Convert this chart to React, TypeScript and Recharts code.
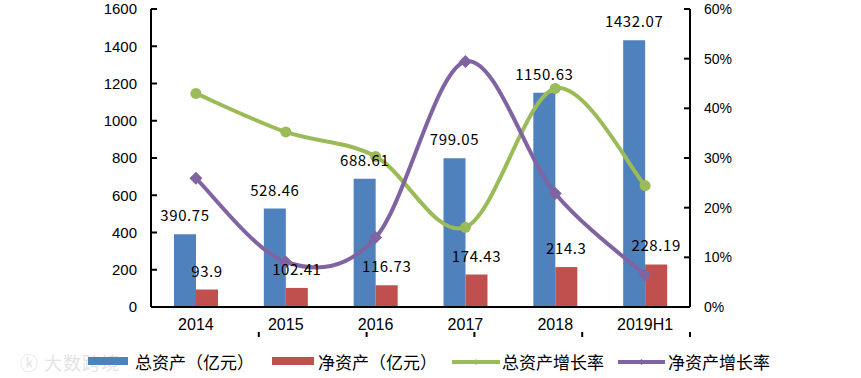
import React from 'react';
import { ComposedChart, Bar, Line, XAxis, YAxis, LabelList } from 'recharts';

const categories = ['2014', '2015', '2016', '2017', '2018', '2019H1'];
const totalAssets = [390.75, 528.46, 688.61, 799.05, 1150.63, 1432.07];
const netAssets = [93.9, 102.41, 116.73, 174.43, 214.3, 228.19];
const totalGrowth = [43.0, 35.24, 30.31, 16.04, 44.0, 24.46];
const netGrowth = [25.9, 9.06, 13.98, 49.43, 22.86, 6.48];
const leftTicks = [0, 200, 400, 600, 800, 1000, 1200, 1400, 1600];
const rightTicks = [0, 10, 20, 30, 40, 50, 60];
const boundaryTicks = [1, 2, 3, 4, 5];

const seriesNames = ['总资产（亿元）', '净资产（亿元）', '总资产增长率', '净资产增长率'];
const colors = ['#4F81BD', '#C0504D', '#9BBB59', '#8064A2'];

const data = categories.map((c, i) => ({
  cat: c,
  total: totalAssets[i],
  net: netAssets[i],
  tg: totalGrowth[i],
  ng: netGrowth[i],
}));

// Excel-like smooth line (Catmull-Rom)
function smoothCurve(context: any) {
  let pts: number[][] = [];
  return {
    areaStart() {},
    areaEnd() {},
    lineStart() {
      pts = [];
    },
    point(x: number, y: number) {
      pts.push([+x, +y]);
    },
    lineEnd() {
      const n = pts.length;
      if (!n) return;
      context.moveTo(pts[0][0], pts[0][1]);
      for (let i = 0; i < n - 1; i++) {
        const p0 = pts[i - 1] || pts[i];
        const p1 = pts[i];
        const p2 = pts[i + 1];
        const p3 = pts[i + 2] || pts[i + 1];
        const c1x = p1[0] + (p2[0] - p0[0]) / 6;
        const c1y = p1[1] + (p2[1] - p0[1]) / 6;
        const c2x = p2[0] - (p3[0] - p1[0]) / 6;
        const c2y = p2[1] - (p3[1] - p1[1]) / 6;
        context.bezierCurveTo(c1x, c1y, c2x, c2y, p2[0], p2[1]);
      }
    },
  };
}

const Diamond = (props: any) => {
  const { cx, cy } = props;
  if (cx == null || cy == null) return null;
  const r = 6.5;
  return (
    <polygon
      points={`${cx},${cy - r} ${cx + r},${cy} ${cx},${cy + r} ${cx - r},${cy}`}
      fill={colors[3]}
    />
  );
};

const Circle = (props: any) => {
  const { cx, cy } = props;
  if (cx == null || cy == null) return null;
  return <circle cx={cx} cy={cy} r={5.5} fill={colors[2]} />;
};

const labelFont = { fontSize: 15, fontFamily: '"Noto Sans CJK SC", sans-serif', fill: '#000', letterSpacing: 0.6 };
const axisFont = 'Liberation Sans, Arial, sans-serif';
const legendFont = '"Noto Sans CJK SC", sans-serif';

export default function App() {
  return (
    <div style={{ position: 'absolute', left: 0, top: 0, width: 861, height: 378, background: '#fff' }}>
      <ComposedChart
        width={861}
        height={378}
        data={data}
        margin={{ top: 9, right: 111, left: 0, bottom: 40 }}
        barGap={0}
      >
        <XAxis
          xAxisId="grid"
          type="number"
          domain={[0, 6]}
          ticks={boundaryTicks}
          height={1}
          axisLine={false}
          tick={() => <g />}
          tickSize={-5}
          tickLine={{ stroke: '#000', strokeWidth: 2 }}
        />
        <XAxis
          dataKey="cat"
          height={30}
          axisLine={{ stroke: '#000', strokeWidth: 2 }}
          tickLine={false}
          tickSize={0}
          tickMargin={12}
          tick={{ fontSize: 16, fill: '#000', fontFamily: axisFont }}
        />
        <YAxis
          yAxisId="left"
          width={151}
          domain={[0, 1600]}
          ticks={leftTicks}
          interval={0}
          axisLine={{ stroke: '#000', strokeWidth: 2 }}
          tickLine={{ stroke: '#000', strokeWidth: 2 }}
          tickSize={-6}
          tickMargin={20}
          tick={{ fontSize: 15, fill: '#000', fontFamily: axisFont }}
        />
        <YAxis
          yAxisId="right"
          orientation="right"
          width={60}
          domain={[0, 60]}
          ticks={rightTicks}
          interval={0}
          tickFormatter={(v: number) => `${v}%`}
          axisLine={{ stroke: '#000', strokeWidth: 2 }}
          tickLine={{ stroke: '#000', strokeWidth: 2 }}
          tickSize={-6}
          tickMargin={20}
          tick={{ fontSize: 14, fill: '#000', fontFamily: axisFont }}
        />
        <Bar dataKey="total" name={seriesNames[0]} yAxisId="left" fill={colors[0]} barSize={22} isAnimationActive={false}>
          <LabelList dataKey="total" position="top" offset={13} style={labelFont} />
        </Bar>
        <Bar dataKey="net" name={seriesNames[1]} yAxisId="left" fill={colors[1]} barSize={22} isAnimationActive={false}>
          <LabelList dataKey="net" position="top" offset={13} style={labelFont} />
        </Bar>
        <Line
          dataKey="tg"
          name={seriesNames[2]}
          yAxisId="right"
          type={smoothCurve as any}
          stroke={colors[2]}
          strokeWidth={4}
          dot={<Circle />}
          activeDot={false}
          isAnimationActive={false}
        />
        <Line
          dataKey="ng"
          name={seriesNames[3]}
          yAxisId="right"
          type={smoothCurve as any}
          stroke={colors[3]}
          strokeWidth={4}
          dot={<Diamond />}
          activeDot={false}
          isAnimationActive={false}
        />
      </ComposedChart>
      <div
        style={{
          position: 'absolute',
          left: 20,
          top: 349,
          fontSize: 18,
          color: '#e3e3e3',
          fontFamily: legendFont,
          letterSpacing: 1,
        }}
      >
        ⓚ 大数跨境
      </div>
      <svg width={861} height={30} style={{ position: 'absolute', left: 0, top: 347 }}>
        <rect x={88} y={10} width={40} height={8} fill={colors[0]} />
        <rect x={272} y={10} width={42} height={8} fill={colors[1]} />
        <line x1={452} x2={500} y1={15} y2={15} stroke={colors[2]} strokeWidth={4} />
        <circle cx={476} cy={15} r={2.5} fill={colors[2]} />
        <line x1={618} x2={665} y1={15} y2={15} stroke={colors[3]} strokeWidth={4} />
        <polygon points="641.5,12 644.5,15 641.5,18 638.5,15" fill={colors[3]} />
        <g fontSize={17} fontFamily={legendFont} fill="#000" dominantBaseline="central">
          <text x={135} y={14}>{seriesNames[0]}</text>
          <text x={318} y={14}>{seriesNames[1]}</text>
          <text x={502} y={14}>{seriesNames[2]}</text>
          <text x={668} y={14}>{seriesNames[3]}</text>
        </g>
      </svg>
    </div>
  );
}
